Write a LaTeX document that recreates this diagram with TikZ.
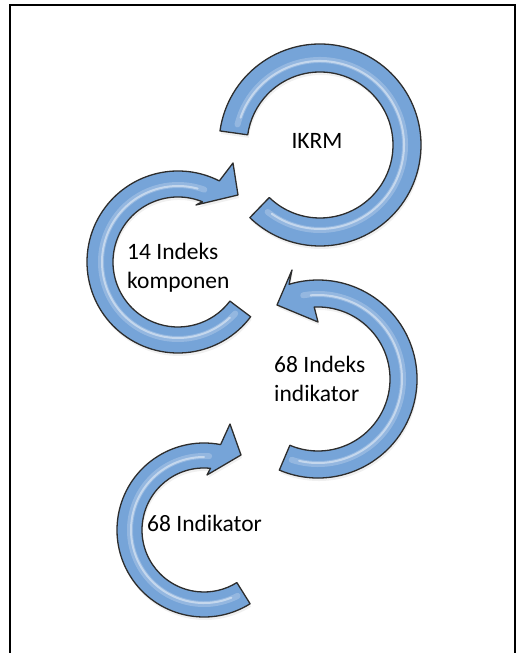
\documentclass[tikz,border=0pt]{standalone}
\usepackage{fontspec}
\setmainfont{Carlito}
\usetikzlibrary{shadows}
\definecolor{ringblue}{RGB}{118,164,216}
\definecolor{ringedge}{RGB}{45,45,45}

\begin{document}
\begin{tikzpicture}[x=1pt,y=1pt]
\tikzset{
  ringarrow/.style={fill=ringblue,draw=ringedge,line width=1.3pt,line join=round,
    drop shadow={opacity=0.12,shadow xshift=1pt,shadow yshift=-3pt}},
  ringshine/.style={draw=white,line cap=round},
  ringlabel/.style={font=\fontsize{23.5}{29}\selectfont,text=black,inner sep=0pt,align=left},
  framerule/.style={draw=black,line width=2.6pt}
}
\useasboundingbox (0,0) rectangle (519,653);
% frame
\coordinate (f_bl) at (10,0);
\coordinate (f_tl) at (10,648);
\coordinate (f_tr) at (515,648);
\coordinate (f_br) at (515,0);
\draw[framerule] (f_bl) -- (f_tl) -- (f_tr) -- (f_br);
% ring centres
\coordinate (c_R1) at (320,508);
\coordinate (c_R2) at (178,391);
\coordinate (c_R3) at (318,274);
\coordinate (c_R4) at (204,123);
% IKRM ring
\path[ringarrow] ([shift={(172:101)}]c_R1) arc[start angle=172,end angle=-134,radius=101]
  -- ([shift={(-134:73)}]c_R1) arc[start angle=-134,end angle=172,radius=73] -- cycle;
\draw[ringshine,line width=6pt,opacity=0.22] ([shift={(166:85)}]c_R1) arc[start angle=166,end angle=-128,radius=85];
\draw[ringshine,line width=2pt,opacity=0.45] ([shift={(161:84)}]c_R1) arc[start angle=161,end angle=-125,radius=84];
% 14 Indeks komponen
\path[ringarrow] ([shift={(-37:91)}]c_R2) arc[start angle=-37,end angle=-297,radius=91]
  -- (233,490) -- (238,458) -- (196,448)
  -- ([shift={(-292:65)}]c_R2) arc[start angle=-292,end angle=-37,radius=65] -- cycle;
\draw[ringshine,line width=6pt,opacity=0.22] ([shift={(-42:77)}]c_R2) arc[start angle=-42,end angle=-290,radius=77];
\draw[ringshine,line width=2pt,opacity=0.45] ([shift={(-47:76)}]c_R2) arc[start angle=-47,end angle=-285,radius=76];
% 68 Indeks indikator
\path[ringarrow] ([shift={(247:99)}]c_R3) arc[start angle=247,end angle=467,radius=99]
  -- (292,383) -- (277,348) -- (318,331)
  -- ([shift={(453:72)}]c_R3) arc[start angle=453,end angle=247,radius=72] -- cycle;
\draw[ringshine,line width=6pt,opacity=0.22] ([shift={(252:85)}]c_R3) arc[start angle=252,end angle=460,radius=85];
\draw[ringshine,line width=2pt,opacity=0.45] ([shift={(257:84)}]c_R3) arc[start angle=257,end angle=455,radius=84];
% 68 Indikator
\path[ringarrow] ([shift={(-58:87)}]c_R4) arc[start angle=-58,end angle=-281,radius=87]
  -- (230,229) -- (241,198) -- (207,178)
  -- ([shift={(-276:62)}]c_R4) arc[start angle=-276,end angle=-58,radius=62] -- cycle;
\draw[ringshine,line width=6pt,opacity=0.22] ([shift={(-63:74)}]c_R4) arc[start angle=-63,end angle=-274,radius=74];
\draw[ringshine,line width=2pt,opacity=0.45] ([shift={(-68:73)}]c_R4) arc[start angle=-68,end angle=-270,radius=73];
% labels
\node[ringlabel] (n_ikrm) at (317,512) {IKRM};
\node[ringlabel,anchor=west] (n_komponen) at (127,385.5) {14 Indeks\\komponen};
\node[ringlabel,anchor=west] (n_indeksind) at (274,274) {68 Indeks\\indikator};
\node[ringlabel,anchor=west] (n_indikator) at (147,130) {68 Indikator};
\end{tikzpicture}
\end{document}
